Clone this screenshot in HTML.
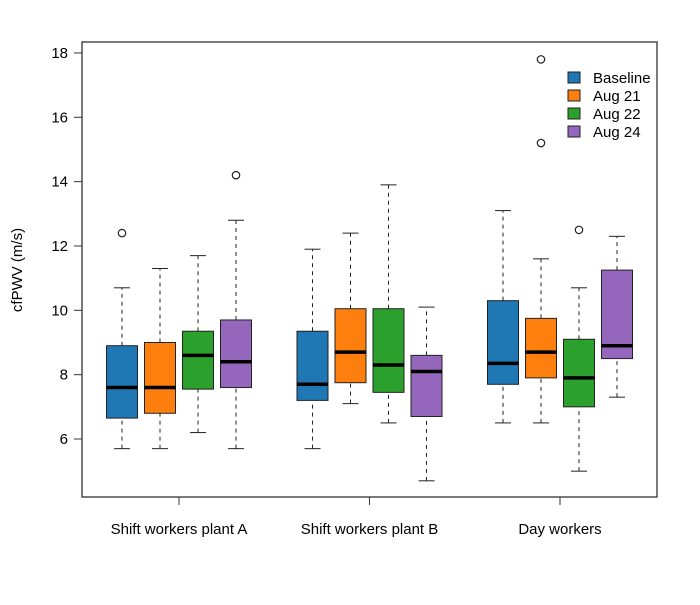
<!DOCTYPE html>
<html><head><meta charset="utf-8"><style>body{margin:0;background:#fff}svg text{font-family:"Liberation Sans",sans-serif}</style></head>
<body>
<svg id="c" width="700" height="600" xmlns="http://www.w3.org/2000/svg"></svg>
<script>
const groups=["Shift workers plant A","Shift workers plant B","Day workers"];
const series=["Baseline","Aug 21","Aug 22","Aug 24"];
const colors=["#1f77b4","#ff7f0e","#2ca02c","#9467bd"];
const yTicks=[6,8,10,12,14,16,18];
// per group, per series: [whiskerLow, q1, median, q3, whiskerHigh]
const statsA=[[5.7,6.65,7.6,8.9,10.7],[5.7,6.8,7.6,9.0,11.3],[6.2,7.55,8.6,9.35,11.7],[5.7,7.6,8.4,9.7,12.8]];
const statsB=[[5.7,7.2,7.7,9.35,11.9],[7.1,7.75,8.7,10.05,12.4],[6.5,7.45,8.3,10.05,13.9],[4.7,6.7,8.1,8.6,10.1]];
const statsC=[[6.5,7.7,8.35,10.3,13.1],[6.5,7.9,8.7,9.75,11.6],[5.0,7.0,7.9,9.1,10.7],[7.3,8.5,8.9,11.25,12.3]];
const outA=[[12.4],[],[],[14.2]];
const outB=[[],[],[],[]];
const outC=[[],[15.2,17.8],[12.5],[]];
const stats=[statsA,statsB,statsC], outs=[outA,outB,outC];
const svg=document.getElementById('c');const NS="http://www.w3.org/2000/svg";
function y(v){return 439-(v-6)*32.17;}
function gx(g){return 179+g*190.5;}
function bx(g,s){return gx(g)+(s-1.5)*38;}
function el(t,a,p){const e=document.createElementNS(NS,t);for(const k in a)e.setAttribute(k,a[k]);(p||svg).appendChild(e);return e;}
const frame=el('rect',{x:82,y:42,width:575,height:455,fill:'none',stroke:'#333','stroke-width':1.3});


yTicks.forEach(v=>{
 const l=el('line',{x1:74,x2:82,y1:y(v),y2:y(v),stroke:'#333'});
 
 
 const t=el('text',{x:68,y:y(v)+5,'text-anchor':'end','font-size':15});t.textContent=v;
 
 
});
groups.forEach((g,gi)=>{
 const l=el('line',{x1:gx(gi),x2:gx(gi),y1:497,y2:505,stroke:'#333'});
 
 
 const t=el('text',{x:gx(gi),y:534,'text-anchor':'middle','font-size':15});t.textContent=g;
 
 
 series.forEach((s,si)=>{
  const d=stats[gi][si],cx=bx(gi,si),w=31;
  const grp=el('g',{});
  
  
  el('line',{x1:cx,x2:cx,y1:y(d[0]),y2:y(d[1]),stroke:'#222','stroke-dasharray':'4,4'},grp);
  el('line',{x1:cx,x2:cx,y1:y(d[3]),y2:y(d[4]),stroke:'#222','stroke-dasharray':'4,4'},grp);
  el('line',{x1:cx-8,x2:cx+8,y1:y(d[0]),y2:y(d[0]),stroke:'#222'},grp);
  el('line',{x1:cx-8,x2:cx+8,y1:y(d[4]),y2:y(d[4]),stroke:'#222'},grp);
  el('rect',{x:cx-w/2,y:y(d[3]),width:w,height:y(d[1])-y(d[3]),fill:colors[si],stroke:'#222','stroke-width':1},grp);
  el('line',{x1:cx-w/2,x2:cx+w/2,y1:y(d[2]),y2:y(d[2]),stroke:'#000','stroke-width':3.5},grp);
  outs[gi][si].forEach(o=>{
   const c=el('circle',{cx:cx,cy:y(o),r:3.7,fill:'none',stroke:'#222','stroke-width':1.2});
   
   
  });
 });
});
const yt=el('text',{x:22,y:270,'text-anchor':'middle','font-size':15,transform:'rotate(-90 22 270)'});yt.textContent='cfPWV (m/s)';


series.forEach((s,si)=>{
 const r=el('rect',{x:568,y:72+si*18,width:12,height:11,fill:colors[si],stroke:'#222'});
 
 
 const t=el('text',{x:593,y:83+si*18,'font-size':15});t.textContent=s;
 
 
});
</script>
</body></html>
